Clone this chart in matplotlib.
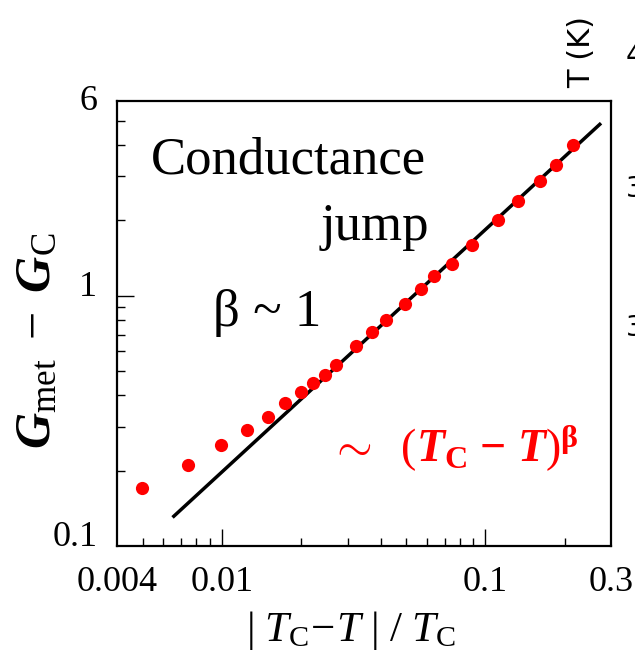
import numpy as np
import matplotlib as mpl
mpl.use('Agg')
import matplotlib.pyplot as plt
from matplotlib.ticker import FixedLocator, NullFormatter

plt.rcParams['font.family'] = ['Liberation Serif', 'DejaVu Serif']
plt.rcParams['mathtext.fontset'] = 'custom'
plt.rcParams['mathtext.rm'] = 'Liberation Serif'
plt.rcParams['mathtext.it'] = 'Liberation Serif:italic'
plt.rcParams['mathtext.bf'] = 'Liberation Serif:bold'
plt.rcParams['mathtext.bfit'] = 'Liberation Serif:italic:bold'

# data
t_red = [0.00499, 0.00746, 0.00994, 0.01241, 0.01491, 0.01734, 0.0200,
         0.02223, 0.02472, 0.02718, 0.03226, 0.03721, 0.04215, 0.04975,
         0.0570, 0.0641, 0.0744, 0.0889, 0.1116, 0.1336, 0.1606, 0.1862,
         0.2159]
g_jump = [0.171, 0.210, 0.253, 0.290, 0.328, 0.372, 0.412, 0.448, 0.484,
          0.528, 0.627, 0.715, 0.797, 0.931, 1.064, 1.194, 1.344, 1.595,
          2.000, 2.390, 2.88, 3.345, 3.99]
fit_t = [0.00657, 0.2718]
fit_g = [0.1315, 4.84]

x_ticks = [0.004, 0.01, 0.1, 0.3]
x_ticklabels = ['0.004', '0.01', '0.1', '0.3']
y_ticks = [0.1, 1, 6]
y_ticklabels = ['0.1', '1', '6']

fig = plt.figure(figsize=(6.35, 6.55), dpi=100)
ax = fig.add_axes([0.1843, 0.1664, 0.778, 0.6794])
ax.set_xscale('log')
ax.set_yscale('log')
ax.plot(fit_t, fit_g, color='k', lw=2.5, zorder=2)
ax.plot(t_red, g_jump, 'o', color='#ff0000', ms=9.5, mec='none', zorder=3)
ax.set_xlim(0.004, 0.3)
ax.set_ylim(0.1, 6)

for s in ax.spines.values():
    s.set_linewidth(1.6)

# ticks: inward, bottom/left only
ax.xaxis.set_major_locator(FixedLocator([0.01, 0.1]))
ax.xaxis.set_minor_locator(FixedLocator([0.005, 0.006, 0.007, 0.008, 0.009,
                                         0.02, 0.03, 0.04, 0.05, 0.06, 0.07,
                                         0.08, 0.09, 0.2]))
ax.xaxis.set_major_formatter(NullFormatter())
ax.xaxis.set_minor_formatter(NullFormatter())
ax.yaxis.set_major_locator(FixedLocator([1]))
ax.yaxis.set_minor_locator(FixedLocator([0.2, 0.3, 0.4, 0.5, 0.6, 0.7, 0.8,
                                         0.9, 2, 3, 4, 5]))
ax.yaxis.set_major_formatter(NullFormatter())
ax.yaxis.set_minor_formatter(NullFormatter())
ax.tick_params(which='both', direction='in', top=False, right=False,
               width=1.0)
ax.tick_params(which='major', length=12)
ax.tick_params(which='minor', length=6)

# tick labels as text
for xv, lab in zip(x_ticks, x_ticklabels):
    ax.text(xv, -0.045, lab, transform=ax.get_xaxis_transform(),
            ha='center', va='top', fontsize=26)
for yv, lab in zip(y_ticks, y_ticklabels):
    va = 'center' if yv == 6 else 'baseline'
    ax.text(-0.04, yv, lab, transform=ax.get_yaxis_transform(),
            ha='right', va=va, fontsize=26)

fig.text(0.552, 0.022, r'$|\ T_{\rm C}\!-\!T\ |\ /\ T_{\rm C}$',
         ha='center', va='baseline', fontsize=31)
fig.text(0.06, 0.48, r'$\mathbfit{G}_{\rm met}\ -\ \mathbfit{G}_{\rm C}$',
         ha='center', va='center', rotation=90, fontsize=36)

ax.text(0.069, 0.836, 'Conductance', transform=ax.transAxes,
        ha='left', va='baseline', fontsize=38)
ax.text(0.411, 0.688, 'jump', transform=ax.transAxes,
        ha='left', va='baseline', fontsize=38)
ax.text(0.194, 0.494, 'β ~ 1', transform=ax.transAxes,
        ha='left', va='baseline', fontsize=38)
ax.text(0.431, 0.189,
        r'$\mathbf{\sim}\ \ (\mathbfit{T}_{\mathbf{C}}\ \mathbf{-}\ \mathbfit{T})^{\mathbf{\beta}}$',
        transform=ax.transAxes, ha='left', va='baseline', fontsize=33,
        color='#ff0000')

# fragments of the neighbouring panel at the right edge
fig.text(582 / 635, 1 - 52 / 655, 'T (K)', family='DejaVu Sans',
         rotation=90, ha='center', va='center', fontsize=22)
for yp, lab in [(56, '4'), (189, '3'), (328, '3')]:
    fig.text(626 / 635, 1 - yp / 655, lab, family='DejaVu Sans',
             ha='left', va='center', fontsize=20)

fig.savefig('out.png', dpi=100)
plt.close(fig)
